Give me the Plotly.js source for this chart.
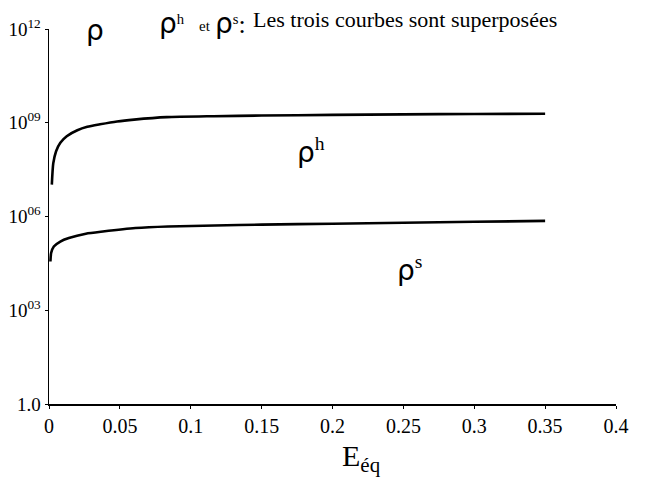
<!DOCTYPE html>
<html>
<head>
<meta charset="utf-8">
<script src="https://cdn.plot.ly/plotly-3.0.1.min.js"></script>
<style>html,body{margin:0;padding:0;background:#fff;}#chart{width:648px;height:480px;}</style>
</head>
<body>
<div id="chart"></div>
<script>
// ρh curve (upper)
const strainH = [0.002, 0.003, 0.005, 0.008, 0.0125, 0.02, 0.027, 0.036, 0.048, 0.06, 0.083, 0.116, 0.15, 0.2, 0.25, 0.3, 0.35];
const rhoH = [1.05e7, 5.0e7, 1.23e8, 2.29e8, 3.72e8, 5.75e8, 7.41e8, 8.91e8, 1.10e9, 1.26e9, 1.51e9, 1.62e9, 1.70e9, 1.78e9, 1.86e9, 1.91e9, 1.95e9];
// ρs curve (lower)
const strainS = [0.001, 0.0015, 0.0034, 0.008, 0.014, 0.026, 0.038, 0.061, 0.084, 0.117, 0.15, 0.2, 0.25, 0.3, 0.35];
const rhoS = [3.63e4, 6.76e4, 1.10e5, 1.58e5, 2.04e5, 2.82e5, 3.31e5, 4.27e5, 4.79e5, 5.13e5, 5.50e5, 5.89e5, 6.31e5, 6.76e5, 7.24e5];

const xTickVals = [0, 0.05, 0.1, 0.15, 0.2, 0.25, 0.3, 0.35, 0.4];
const xTickText = ['0', '0.05', '0.1', '0.15', '0.2', '0.25', '0.3', '0.35', '0.4'];
const yTickVals = [1, 1e3, 1e6, 1e9, 1e12];
const yTickText = ['1.0', '10<sup>03</sup>', '10<sup>06</sup>', '10<sup>09</sup>', '10<sup>12</sup>'];

const serif = '"Liberation Serif", "Times New Roman", serif';
const rho = (s) => '<span style="font-family:DejaVu Sans;font-size:' + s + 'px">ρ</span>';

const lineStyle = {color: '#000', width: 2.6, shape: 'spline', smoothing: 0.6};

const traces = [
  {x: strainH, y: rhoH, type: 'scatter', mode: 'lines', line: lineStyle, name: 'ρh', hoverinfo: 'skip'},
  {x: strainS, y: rhoS, type: 'scatter', mode: 'lines', line: lineStyle, name: 'ρs', hoverinfo: 'skip'}
];

const ann = (x, y, text, size, xanchor) => ({
  xref: 'paper', yref: 'paper', x: x, y: y, xanchor: xanchor || 'left', yanchor: 'middle',
  showarrow: false, text: text, font: {family: serif, size: size, color: '#000'}
});

const layout = {
  width: 648, height: 480,
  margin: {l: 49, r: 32, t: 29, b: 76, pad: 0},
  paper_bgcolor: '#fff', plot_bgcolor: '#fff',
  showlegend: false,
  font: {family: serif, color: '#000', size: 20},
  xaxis: {
    range: [0, 0.4], tickvals: xTickVals, ticktext: xTickText,
    showgrid: false, zeroline: false, showline: true, linecolor: '#000', linewidth: 1.5,
    ticks: 'outside', ticklen: 3, tickcolor: '#000', tickwidth: 1,
    tickfont: {family: serif, size: 20, color: '#000'}
  },
  yaxis: {
    type: 'log', range: [0, 12], tickvals: yTickVals, ticktext: yTickText,
    showgrid: false, zeroline: false, showline: true, linecolor: '#000', linewidth: 1.5,
    ticks: 'outside', ticklen: 3, tickcolor: '#000', tickwidth: 1,
    tickfont: {family: serif, size: 19, color: '#000'}
  },
  annotations: [
    ann(0.081, 0.995, rho(28), 20, 'center'),
    ann(0.19, 1.015, rho(28) + '<sup>h</sup>', 21),
    ann(0.261, 1.008, 'et', 15),
    ann(0.289, 1.015, rho(28) + '<sup>s</sup><span style="font-size:26px">:</span>', 21),
    ann(0.356, 1.025, 'Les trois courbes sont superposées', 22),
    ann(0.462, 0.675, rho(28) + '<sup>h</sup>', 28, 'center'),
    ann(0.635, 0.36, rho(28) + '<sup>s</sup>', 28, 'center'),
    Object.assign(ann(0.552, -0.088, 'E<sub>éq</sub>', 30, 'center'), {yanchor: 'top'})
  ]
};

Plotly.newPlot('chart', traces, layout, {displayModeBar: false, staticPlot: true});
</script>
</body>
</html>
